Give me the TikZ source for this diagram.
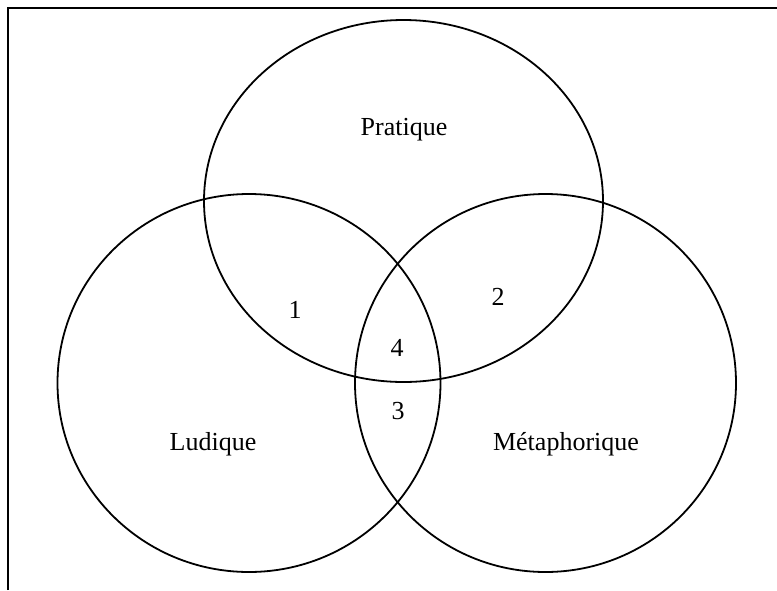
\documentclass[tikz,border=0pt]{standalone}
\usepackage{fontspec}
\setmainfont{Liberation Serif}
\begin{document}
\begin{tikzpicture}[x=1pt,y=-1pt,
  set/.style={draw=black,line width=1.8pt},
  lbl/.style={font=\fontsize{26}{30}\selectfont,inner sep=0pt}]
\useasboundingbox (0,0) rectangle (777,590);
\draw[line width=2.2pt] (8,590) coordinate (fa) -- (8,8) coordinate (fb) -- (777,8) coordinate (fc);
\draw[set] (403.5,201) ellipse [x radius=199.5, y radius=181];
\draw[set] (249,383) ellipse [x radius=191.5, y radius=189];
\draw[set] (545.5,383) ellipse [x radius=190.5, y radius=189];
\node[lbl] (p) at (404,130) {Pratique};
\node[lbl] (l) at (213,444) {Ludique};
\node[lbl] (m) at (566,444) {Métaphorique};
\node[lbl] (n1) at (295,310) {1};
\node[lbl] (n2) at (498,297) {2};
\node[lbl] (n3) at (398,411) {3};
\node[lbl] (n4) at (397,348) {4};
\end{tikzpicture}
\end{document}
